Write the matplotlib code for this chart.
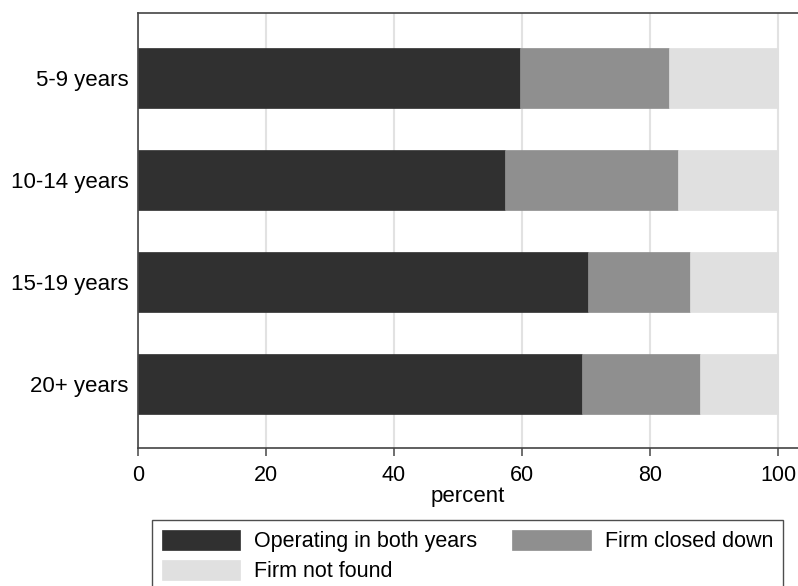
import numpy as np
import matplotlib.pyplot as plt

groups = ['5-9 years', '10-14 years', '15-19 years', '20+ years']
operating = [59.7, 57.3, 70.3, 69.4]
closed = [23.3, 27.1, 15.9, 18.4]
not_found = [17.0, 15.6, 13.8, 12.2]
series_names = ['Operating in both years', 'Firm closed down', 'Firm not found']
colors = ['#303030', '#8f8f8f', '#e0e0e0']

plt.rcParams['font.family'] = ['Liberation Sans', 'DejaVu Sans']

fig = plt.figure(figsize=(7.98, 5.86), dpi=100)
ax = fig.add_axes([138/798, 1-448/586, 660/798, 435/586])

y = np.arange(len(groups))
left = np.zeros(len(groups))
handles = []
for vals, name, col in zip([operating, closed, not_found], series_names, colors):
	b = ax.barh(y, vals, left=left, height=0.59, color=col, label=name, zorder=2,
		edgecolor=col, linewidth=0.5)
	handles.append(b)
	left = left + np.array(vals)

ax.set_xlim(0, 660/6.4)
ax.set_ylim(3.63, -0.64)
ax.set_yticks(y)
ax.set_yticklabels(groups, fontsize=16)
ax.set_xticks([0, 20, 40, 60, 80, 100])
ax.tick_params(axis='x', labelsize=15.5, length=6, width=1.2, color='#555555', pad=6)
ax.tick_params(axis='y', length=0, pad=7)
ax.xaxis.grid(True, color='#e2e2e2', linewidth=1.5, zorder=0)
ax.set_axisbelow(True)
ax.set_xlabel('percent', fontsize=16, labelpad=0)

ax.spines['right'].set_visible(False)
for s in ['top', 'left', 'bottom']:
	ax.spines[s].set_color('#444444')
	ax.spines[s].set_linewidth(1.2)

# ncol fills by column, so reorder to read row by row
order = [handles[0], handles[2], handles[1]]
leg = fig.legend(handles=order, loc='upper left', bbox_to_anchor=(152/798, 1-520/586),
	ncol=2, fontsize=15.5, frameon=True, fancybox=False,
	handlelength=3.65, handleheight=1.05, handletextpad=0.63, borderpad=0.45,
	labelspacing=0.35, columnspacing=1.65, borderaxespad=0)
leg.get_frame().set_edgecolor('#222222')
leg.get_frame().set_linewidth(1.0)

fig.savefig('out.png', dpi=100)
